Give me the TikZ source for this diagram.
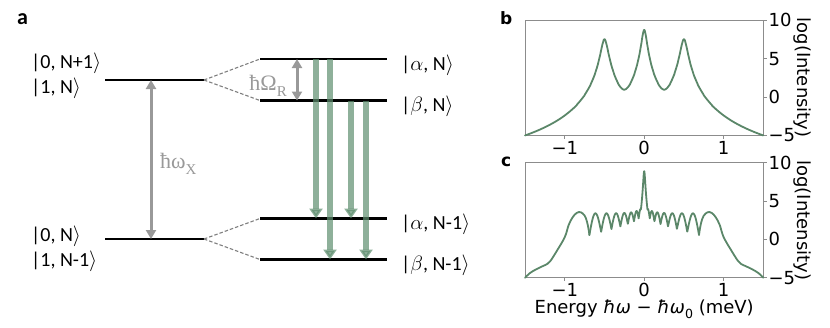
\documentclass[tikz,border=0pt]{standalone}
\usepackage{fontspec}
\setmainfont{Carlito}
\newfontfamily\plotfont{DejaVu Sans}
\newfontfamily\gapfont{Liberation Serif}
\usetikzlibrary{arrows.meta}
\definecolor{splitGray}{HTML}{7F7F7F}
\definecolor{gapGray}{HTML}{999999}
\definecolor{emitGreen}{HTML}{5E8E6F}
\definecolor{specGreen}{HTML}{5B8769}
\definecolor{axisGray}{HTML}{8C8C8C}
\newcommand{\ket}[1]{|#1$\rangle$}
\newcommand{\lowsub}[1]{\raisebox{-0.28em}{\fontsize{15}{15}\selectfont #1}}

\begin{document}
\begin{tikzpicture}[x=1pt,y=-1pt,
  font=\fontsize{20}{24}\selectfont,
  level/.style={draw=black,line width=2.6pt},
  split/.style={draw=splitGray,line width=1.1pt,dash pattern=on 3.5pt off 2pt},
  gap/.style={draw=gapGray,line width=3pt,{Triangle[length=9pt,width=10pt]}-{Triangle[length=9pt,width=10pt]}},
  emit/.style={draw=emitGreen,opacity=0.7,line width=6pt,-{Triangle[length=10pt,width=13pt]}},
  ket/.style={anchor=base west,inner sep=0pt},
  gaplab/.style={font=\gapfont\fontsize{22}{24}\selectfont,text=gapGray,inner sep=0pt},
  tag/.style={font=\bfseries\fontsize{22}{24}\selectfont,inner sep=0pt,anchor=base west},
  plottag/.style={font=\plotfont\bfseries\fontsize{17}{20}\selectfont,inner sep=0pt,anchor=base west},
  frame/.style={draw=axisGray,line width=1pt},
  tick/.style={font=\plotfont\fontsize{18}{20}\selectfont,inner sep=0pt},
  spec/.style={draw=specGreen,line width=1.8pt,line join=round,line cap=round},
  declare function={
    lorsq(\x,\pos,\wid)=-2*ln((\x-\pos)*(\x-\pos)+\wid*\wid);
    lse(\ga,\gb,\gc)=max(\ga,\gb,\gc)+ln(exp(max(\ga-max(\ga,\gb,\gc),-9))+exp(max(\gb-max(\ga,\gb,\gc),-9))+exp(max(\gc-max(\ga,\gb,\gc),-9)));
    specB(\x)=-5.23+lse(lorsq(\x,-0.5,0.0415),lorsq(\x,0,0.0307),lorsq(\x,0.5,0.0415));
    scallop(\x)=3.4+exp(-abs(\x)/0.08)-(0.9+2.8*abs(\x))*(1-abs(sin(1908*(0.925-sqrt(abs(\x))))));
    spikeC(\x)=8.9-2*ln(1+(\x/0.0124)*(\x/0.0124));
    specC(\x)=max(scallop(\x),spikeC(\x));
  }
]
\useasboundingbox (0,0) rectangle (830,327);

% panel a
\node[tag] (tagA) at (17,24) {a};
\coordinate (xU) at (105,80);   \coordinate (xUe) at (204,80);
\coordinate (xL) at (105,239);  \coordinate (xLe) at (204,239);
\coordinate (aN) at (260,59);   \coordinate (aNe) at (387,59);
\coordinate (bN) at (260,100.5);\coordinate (bNe) at (387,100.5);
\coordinate (aM) at (260,218.5);\coordinate (aMe) at (387,218.5);
\coordinate (bM) at (260,259.5);\coordinate (bMe) at (387,259.5);
\draw[level] (xU) -- (xUe);
\draw[level] (xL) -- (xLe);
\draw[level] (aN) -- (aNe);
\draw[level] (bN) -- (bNe);
\draw[level] (aM) -- (aMe);
\draw[level] (bM) -- (bMe);
\draw[split] (xUe) -- (aN);
\draw[split] (xUe) -- (bN);
\draw[split] (xLe) -- (aM);
\draw[split] (xLe) -- (bM);
\draw[gap] (151,0 |- xL) -- (151,0 |- xU);
\draw[gap] (297,0 |- bN) -- (297,0 |- aN);
\foreach \xx/\from/\to in {316/aN/aM,330/aN/bM,351/bN/aM,366/bN/bM}
  \draw[emit] (\xx,0 |- \from) -- (\xx,0 |- \to);
\node[gaplab,anchor=base west] (omX) at (160,168) {ħω\lowsub{X}};
\node[gaplab,anchor=base east] (omR) at (287,90.5) {ħΩ\lowsub{R}};
\node[ket] (kU1) at (31,68) {\ket{0, N+1}};
\node[ket] (kU2) at (31,93) {\ket{1, N}};
\node[ket] (kL1) at (31,241) {\ket{0, N}};
\node[ket] (kL2) at (31,266) {\ket{1, N-1}};
\node[ket] (kaN) at (401,70) {\ket{$\alpha$, N}};
\node[ket] (kbN) at (401,111.5) {\ket{$\beta$, N}};
\node[ket] (kaM) at (401,229.5) {\ket{$\alpha$, N-1}};
\node[ket] (kbM) at (401,270.5) {\ket{$\beta$, N-1}};

% panel b
\node[plottag] (tagB) at (500,24) {b};
\begin{scope}[shift={(644.2,97)},x=79.43pt,y=7.687pt]
  \draw[frame] (-1.5,-5) rectangle (1.5,10);
  \foreach \v/\t [count=\i] in {10/10,5/5,0/0,-5/−5}{
    \draw[frame] (1.5,\v) -- ++(3.5pt,0);
    \node[tick,anchor=west] (bY\i) at ([xshift=5pt]1.5,\v) {\t};
  }
  \foreach \u/\t [count=\i] in {-1/−1,0/0,1/1}{
    \draw[frame] (\u,-5) -- ++(0,-3.5pt);
    \node[tick,anchor=north] (bX\i) at ([yshift=-5.5pt]\u,-5) {\t};
  }
  \draw[spec] plot[domain=-1.5:1.5,samples=601] (\x,{specB(\x)});
\end{scope}
\node[tick,rotate=-90] (bLab) at (802,77.6) {log(Intensity)};

% panel c
\node[plottag] (tagC) at (501,166) {c};
\begin{scope}[shift={(644.2,239.4)},x=79.43pt,y=7.667pt]
  \draw[frame] (-1.5,-5) rectangle (1.5,10);
  \foreach \v/\t [count=\i] in {10/10,5/5,0/0,-5/−5}{
    \draw[frame] (1.5,\v) -- ++(3.5pt,0);
    \node[tick,anchor=west] (cY\i) at ([xshift=5pt]1.5,\v) {\t};
  }
  \foreach \u/\t [count=\i] in {-1/−1,0/0,1/1}{
    \draw[frame] (\u,-5) -- ++(0,-3.5pt);
    \node[tick,anchor=north] (cX\i) at ([yshift=-5.5pt]\u,-5) {\t};
  }
  \draw[spec] plot[domain=-0.69:0.69,samples=691] (\x,{specC(\x)});
  \foreach \s in {1,-1}{
    \begin{scope}[xscale=\s]
      \draw[spec] plot[smooth,tension=0.6] coordinates {(0.69,0.57) (0.70,1.3) (0.72,2.3) (0.75,3.1) (0.80,3.55) (0.85,3.45) (0.90,2.9) (0.95,1.9) (1.0,0.3) (1.1,-1.5) (1.18,-2.8) (1.22,-3.2) (1.28,-3.5) (1.36,-3.9) (1.44,-4.4) (1.5,-5)};
    \end{scope}
  }
\end{scope}
\node[tick,rotate=-90] (cLab) at (802,220.4) {log(Intensity)};
\node[tick,anchor=base] (eLab) at (644.2,313.5) {Energy \textit{ħω} − \textit{ħω}\raisebox{-0.25em}{\fontsize{12.6}{13}\selectfont 0} (meV)};
\end{tikzpicture}
\end{document}
